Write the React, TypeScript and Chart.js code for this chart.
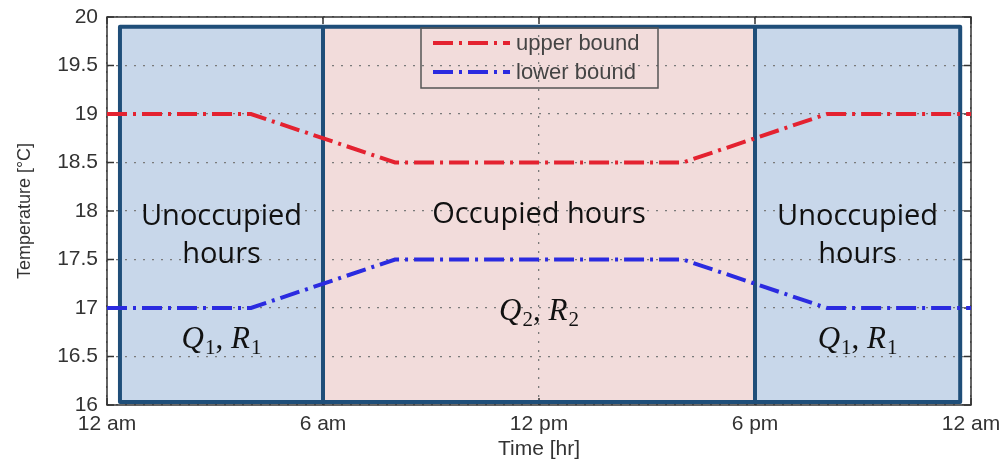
import React, { useEffect, useRef } from "react";
import { Chart, registerables } from "chart.js";

Chart.register(...registerables);

// ---- data ----
const hours = [0, 4, 8, 16, 20, 24];
const upperBound = [19, 19, 18.5, 18.5, 19, 19];
const lowerBound = [17, 17, 17.5, 17.5, 17, 17];
const seriesNames = ["upper bound", "lower bound"];
const seriesColors = ["#E42230", "#2B2BE0"];

const xTickValues = [0, 6, 12, 18, 24];
const xTickLabels = ["12 am", "6 am", "12 pm", "6 pm", "12 am"];

// shaded periods (in hours / °C)
const periodStart = [0.36, 6, 18];
const periodEnd = [6, 18, 23.7];
const periodOccupied = [false, true, false];
const periodBottom = 16.03;
const periodTop = 19.9;

const periodTitles = [["Unoccupied", "hours"], ["Occupied hours"], ["Unoccupied", "hours"]];
const periodTitleBaselines = [[17.856, 17.464], [17.876], [17.856, 17.464]];
const periodMathIndex = ["1", "2", "1"];
const periodMathBaselines = [16.59, 16.88, 16.59];

const DASH = [20, 6, 3, 6];
const AXIS_FONT = "'Liberation Sans', Arial, sans-serif";

function drawMath(ctx: CanvasRenderingContext2D, cx: number, by: number, idx: string) {
  const big = "italic 31px 'Liberation Serif', serif";
  const up = "31px 'Liberation Serif', serif";
  const sub = "21px 'Liberation Serif', serif";
  const parts: [string, string, number][] = [
    ["Q", big, 0],
    [idx, sub, 6],
    [",", up, 0],
    [" ", up, 0],
    ["R", big, 0],
    [idx, sub, 6],
  ];
  let total = 0;
  const widths: number[] = [];
  for (const [t, f] of parts) {
    ctx.font = f;
    const w = ctx.measureText(t).width + (t === "Q" || t === "R" ? 1 : 0);
    widths.push(w);
    total += w;
  }
  let x = cx - total / 2;
  ctx.textAlign = "left";
  ctx.textBaseline = "alphabetic";
  parts.forEach(([t, f, dy], i) => {
    ctx.font = f;
    ctx.fillText(t, x, by + dy);
    x += widths[i];
  });
}

const overlayPlugin = {
  id: "overlay",
  beforeDraw(chart: any) {
    const { ctx, scales } = chart;
    const xs = scales.x;
    const ys = scales.y;
    ctx.save();
    periodStart.forEach((s, i) => {
      const x0 = xs.getPixelForValue(s);
      const x1 = xs.getPixelForValue(periodEnd[i]);
      const y0 = ys.getPixelForValue(periodTop);
      const y1 = ys.getPixelForValue(periodBottom);
      ctx.fillStyle = periodOccupied[i] ? "#F2DCDB" : "#C8D7EA";
      ctx.fillRect(x0, y0, x1 - x0, y1 - y0);
    });
    ctx.restore();
  },
  beforeDatasetsDraw(chart: any) {
    const { ctx, scales, chartArea: a } = chart;
    const xs = scales.x;
    const ys = scales.y;
    ctx.save();
    // axes box
    ctx.strokeStyle = "#333";
    ctx.lineWidth = 1.5;
    ctx.strokeRect(a.left, a.top, a.right - a.left, a.bottom - a.top);
    ctx.beginPath();
    ys.ticks.forEach((t: any) => {
      const y = ys.getPixelForValue(t.value);
      ctx.moveTo(a.left, y);
      ctx.lineTo(a.left + 7, y);
      ctx.moveTo(a.right, y);
      ctx.lineTo(a.right - 7, y);
    });
    xs.ticks.forEach((t: any) => {
      const x = xs.getPixelForValue(t.value);
      ctx.moveTo(x, a.bottom);
      ctx.lineTo(x, a.bottom - 7);
      ctx.moveTo(x, a.top);
      ctx.lineTo(x, a.top + 7);
    });
    ctx.stroke();
    // period borders
    ctx.strokeStyle = "#1F4E79";
    ctx.lineWidth = 4;
    ctx.lineJoin = "round";
    periodStart.forEach((s, i) => {
      const x0 = xs.getPixelForValue(s);
      const x1 = xs.getPixelForValue(periodEnd[i]);
      const y0 = ys.getPixelForValue(periodTop);
      const y1 = ys.getPixelForValue(periodBottom);
      ctx.strokeRect(x0, y0, x1 - x0, y1 - y0);
    });
    ctx.restore();
  },
  afterDatasetsDraw(chart: any) {
    const { ctx, scales } = chart;
    const xs = scales.x;
    const ys = scales.y;
    ctx.save();
    ctx.fillStyle = "#111";
    periodStart.forEach((s, i) => {
      const cx = xs.getPixelForValue((s + periodEnd[i]) / 2);
      ctx.font = "29px 'Open Sans', sans-serif";
      ctx.textAlign = "center";
      ctx.textBaseline = "alphabetic";
      periodTitles[i].forEach((line, j) => {
        ctx.fillText(line, cx, ys.getPixelForValue(periodTitleBaselines[i][j]));
      });
      drawMath(ctx, cx, ys.getPixelForValue(periodMathBaselines[i]), periodMathIndex[i]);
    });
    ctx.restore();
  },
  afterDraw(chart: any) {
    const { ctx, chartArea: a } = chart;
    ctx.save();
    const lx = a.left + 314;
    const ly = a.top + 11;
    const lw = 237;
    const lh = 60;
    ctx.strokeStyle = "#555";
    ctx.lineWidth = 1.5;
    ctx.strokeRect(lx, ly, lw, lh);
    chart.data.datasets.forEach((ds: any, i: number) => {
      const y = ly + 15 + i * 29;
      ctx.strokeStyle = ds.borderColor;
      ctx.lineWidth = 4;
      ctx.setLineDash(DASH);
      ctx.beginPath();
      ctx.moveTo(lx + 12, y);
      ctx.lineTo(lx + 89, y);
      ctx.stroke();
      ctx.setLineDash([]);
      ctx.fillStyle = "#444";
      ctx.font = "22px " + AXIS_FONT;
      ctx.textAlign = "left";
      ctx.textBaseline = "middle";
      ctx.fillText(ds.label, lx + 95, y + 1);
    });
    ctx.restore();
  },
};

export default function App() {
  const ref = useRef<HTMLCanvasElement | null>(null);
  useEffect(() => {
    if (!ref.current) return;
    const makeData = (vals: number[]) => hours.map((h, i) => ({ x: h, y: vals[i] }));
    const chart = new Chart(ref.current, {
      type: "line",
      data: {
        datasets: [upperBound, lowerBound].map((vals, i) => ({
          label: seriesNames[i],
          data: makeData(vals),
          borderColor: seriesColors[i],
          backgroundColor: seriesColors[i],
          borderWidth: 4,
          borderDash: DASH,
          pointRadius: 0,
          tension: 0,
          fill: false,
        })),
      },
      options: {
        animation: false,
        responsive: false,
        maintainAspectRatio: false,
        layout: { padding: { top: 17, right: 31, left: 0, bottom: 0 } },
        plugins: { legend: { display: false }, tooltip: { enabled: false } },
        scales: {
          x: {
            type: "linear",
            min: 0,
            max: 24,
            afterFit: (s: any) => {
              s.height = 55;
              s.paddingLeft = 0;
              s.paddingRight = 0;
            },
            afterBuildTicks: (s: any) => {
              s.ticks = xTickValues.map((v) => ({ value: v }));
            },
            ticks: {
              autoSkip: false,
              maxRotation: 0,
              padding: 7,
              color: "#333",
              font: { family: AXIS_FONT, size: 21 },
              callback: (v: any) => {
                const idx = xTickValues.indexOf(Number(v));
                return idx >= 0 ? xTickLabels[idx] : "";
              },
            },
            grid: {
              drawTicks: false,
              color: "#7a7a7a",
              lineWidth: 1.3,
            },
            border: { display: false, dash: [2, 7] },
            title: {
              display: true,
              text: "Time [hr]",
              color: "#333",
              font: { family: AXIS_FONT, size: 21, lineHeight: 1 },
              padding: { top: 0, bottom: 0 },
            },
          },
          y: {
            min: 16,
            max: 20,
            afterFit: (s: any) => {
              s.width = 107;
              s.paddingTop = 0;
              s.paddingBottom = 0;
            },
            ticks: {
              stepSize: 0.5,
              padding: 9,
              color: "#333",
              font: { family: AXIS_FONT, size: 21 },
              callback: (v: any) => String(Number(v)),
            },
            grid: {
              drawTicks: false,
              color: "#7a7a7a",
              lineWidth: 1.3,
            },
            border: { display: false, dash: [2, 7] },
            title: {
              display: true,
              text: "Temperature [°C]",
              color: "#333",
              font: { family: AXIS_FONT, size: 18 },
              padding: { top: 14, bottom: 0 },
            },
          },
        },
      },
      plugins: [overlayPlugin],
    } as any);
    return () => chart.destroy();
  }, []);
  return (
    <div style={{ position: "absolute", left: 0, top: 0, width: 1002, height: 460, background: "#fff" }}>
      <canvas ref={ref} width={1002} height={460} style={{ display: "block" }} />
    </div>
  );
}
